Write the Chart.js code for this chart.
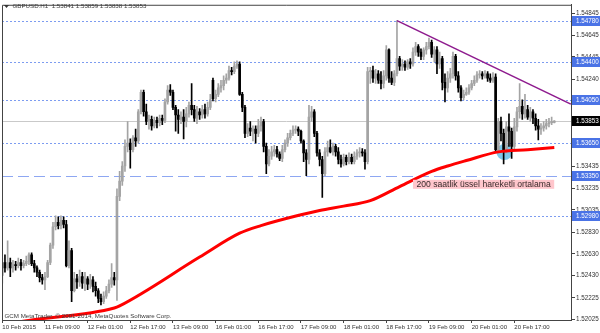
<!DOCTYPE html>
<html><head><meta charset="utf-8">
<script src="https://cdn.jsdelivr.net/npm/chart.js@4.4.1/dist/chart.umd.min.js"></script>
<style>html,body{margin:0;padding:0;background:#fff;}canvas{display:block;}</style>
</head><body>
<canvas id="c" width="600" height="333" style="width:600px;height:333px"></canvas>
<script>
// ---- data (GBPUSD H1, one entry per hourly bar) ----
const open = [1.5243,1.5255,1.5250,1.5255,1.5250,1.5253,1.5252,1.5255,1.5252,1.5254,
1.5256,1.5262,1.5254,1.5250,1.5246,1.5241,1.5239,1.5242,1.5255,1.5271,
1.5288,1.5292,1.5289,1.5294,1.5290,1.5252,1.5266,1.5229,1.5240,1.5237,
1.5242,1.5236,1.5240,1.5235,1.5239,1.5233,1.5229,1.5222,1.5219,1.5224,
1.5229,1.5235,1.5241,1.5239,1.5316,1.5330,1.5344,1.5362,1.5365,1.5359,
1.5370,1.5367,1.5394,1.5412,1.5394,1.5385,1.5387,1.5381,1.5386,1.5384,
1.5388,1.5386,1.5403,1.5414,1.5412,1.5398,1.5391,1.5387,1.5389,1.5385,
1.5392,1.5400,1.5396,1.5388,1.5394,1.5391,1.5396,1.5392,1.5398,1.5423,
1.5406,1.5410,1.5416,1.5418,1.5423,1.5425,1.5432,1.5431,1.5436,1.5438,
1.5410,1.5398,1.5374,1.5379,1.5376,1.5378,1.5374,1.5381,1.5385,1.5362,
1.5346,1.5353,1.5357,1.5359,1.5355,1.5351,1.5359,1.5365,1.5370,1.5374,
1.5377,1.5378,1.5376,1.5367,1.5356,1.5350,1.5389,1.5394,1.5374,1.5356,
1.5350,1.5337,1.5357,1.5361,1.5357,1.5362,1.5357,1.5350,1.5346,1.5352,
1.5348,1.5352,1.5348,1.5353,1.5356,1.5357,1.5356,1.5348,1.5431,1.5432,
1.5425,1.5429,1.5423,1.5420,1.5427,1.5451,1.5425,1.5421,1.5429,1.5443,
1.5436,1.5438,1.5435,1.5440,1.5438,1.5449,1.5454,1.5449,1.5445,1.5451,
1.5454,1.5458,1.5447,1.5451,1.5438,1.5443,1.5421,1.5416,1.5425,1.5429,
1.5445,1.5427,1.5416,1.5407,1.5410,1.5412,1.5416,1.5420,1.5423,1.5428,
1.5429,1.5427,1.5429,1.5425,1.5423,1.5426,1.5359,1.5385,1.5374,1.5359,
1.5380,1.5376,1.5362,1.5380,1.5394,1.5399,1.5392,1.5396,1.5389,1.5394,
1.5388,1.5381,1.5378,1.5379,1.5381,1.5383,1.5384,1.53841];
const high = [1.5259,1.5262,1.5275,1.5259,1.5257,1.5256,1.5259,1.5258,1.5257,1.5261,
1.5264,1.5264,1.5257,1.5252,1.5248,1.5244,1.5246,1.5257,1.5273,1.5292,
1.5298,1.5297,1.5298,1.5297,1.5294,1.5275,1.5268,1.5246,1.5244,1.5248,
1.5246,1.5246,1.5242,1.5244,1.5242,1.5237,1.5231,1.5226,1.5228,1.5233,
1.5239,1.5254,1.5246,1.5323,1.5339,1.5348,1.5368,1.5385,1.5369,1.5372,
1.5378,1.5396,1.5414,1.5414,1.5401,1.5391,1.5390,1.5389,1.5389,1.5391,
1.5391,1.5406,1.5418,1.5419,1.5414,1.5400,1.5396,1.5394,1.5396,1.5398,
1.5403,1.5420,1.5400,1.5399,1.5397,1.5400,1.5401,1.5403,1.5410,1.5425,
1.5414,1.5420,1.5423,1.5427,1.5429,1.5436,1.5435,1.5440,1.5441,1.5440,
1.5412,1.5400,1.5383,1.5385,1.5381,1.5381,1.5387,1.5389,1.5387,1.5365,
1.5359,1.5362,1.5363,1.5362,1.5357,1.5363,1.5368,1.5374,1.5377,1.5381,
1.5381,1.5380,1.5377,1.5368,1.5359,1.5400,1.5399,1.5396,1.5376,1.5359,
1.5353,1.5361,1.5367,1.5368,1.5365,1.5364,1.5361,1.5354,1.5355,1.5354,
1.5356,1.5355,1.5357,1.5359,1.5361,1.5360,1.5359,1.5435,1.5435,1.5436,
1.5433,1.5432,1.5431,1.5432,1.5455,1.5452,1.5431,1.5432,1.5478,1.5445,
1.5442,1.5441,1.5442,1.5443,1.5453,1.5458,1.5456,1.5452,1.5453,1.5458,
1.5462,1.5460,1.5454,1.5454,1.5449,1.5445,1.5429,1.5431,1.5434,1.5449,
1.5447,1.5431,1.5418,1.5414,1.5416,1.5419,1.5423,1.5427,1.5431,1.5432,
1.5431,1.5432,1.5431,1.5429,1.5430,1.5429,1.5388,1.5389,1.5378,1.5385,
1.5392,1.5379,1.5388,1.5398,1.5420,1.5405,1.5410,1.5400,1.5398,1.5396,
1.5392,1.5387,1.5383,1.5385,1.5387,1.5388,1.5389,1.53859];
const low = [1.5236,1.5246,1.5248,1.5242,1.5246,1.5248,1.5250,1.5248,1.5250,1.5252,
1.5253,1.5252,1.5246,1.5242,1.5237,1.5235,1.5230,1.5241,1.5253,1.5268,
1.5285,1.5286,1.5286,1.5287,1.5251,1.5250,1.5219,1.5228,1.5231,1.5233,
1.5231,1.5229,1.5230,1.5231,1.5228,1.5224,1.5218,1.5216,1.5217,1.5222,
1.5227,1.5232,1.5234,1.5220,1.5312,1.5326,1.5339,1.5357,1.5342,1.5357,
1.5362,1.5365,1.5392,1.5390,1.5382,1.5378,1.5377,1.5379,1.5379,1.5381,
1.5382,1.5384,1.5401,1.5409,1.5396,1.5376,1.5374,1.5383,1.5369,1.5380,
1.5389,1.5391,1.5385,1.5383,1.5387,1.5388,1.5388,1.5390,1.5396,1.5404,
1.5403,1.5408,1.5412,1.5414,1.5420,1.5423,1.5428,1.5429,1.5434,1.5409,
1.5394,1.5370,1.5371,1.5372,1.5367,1.5365,1.5371,1.5376,1.5357,1.5337,
1.5344,1.5350,1.5353,1.5352,1.5349,1.5348,1.5357,1.5362,1.5368,1.5372,
1.5374,1.5372,1.5365,1.5348,1.5335,1.5346,1.5385,1.5371,1.5353,1.5344,
1.5315,1.5335,1.5353,1.5356,1.5354,1.5353,1.5346,1.5343,1.5344,1.5345,
1.5346,1.5346,1.5346,1.5350,1.5352,1.5353,1.5341,1.5346,1.5420,1.5421,
1.5420,1.5420,1.5415,1.5416,1.5423,1.5421,1.5419,1.5418,1.5427,1.5432,
1.5432,1.5432,1.5433,1.5434,1.5436,1.5446,1.5445,1.5442,1.5442,1.5447,
1.5452,1.5444,1.5440,1.5429,1.5434,1.5414,1.5403,1.5412,1.5421,1.5425,
1.5423,1.5412,1.5404,1.5405,1.5409,1.5410,1.5414,1.5418,1.5421,1.5425,
1.5424,1.5425,1.5422,1.5421,1.5421,1.5357,1.5356,1.5367,1.5346,1.5356,
1.5362,1.5351,1.5359,1.5376,1.5388,1.5387,1.5388,1.5387,1.5385,1.5383,
1.5377,1.5368,1.5373,1.5376,1.5378,1.5380,1.5382,1.53838];
const close = [1.5255,1.5250,1.5255,1.5250,1.5253,1.5252,1.5255,1.5252,1.5254,1.5256,
1.5262,1.5254,1.5250,1.5246,1.5241,1.5239,1.5242,1.5255,1.5271,1.5288,
1.5292,1.5289,1.5294,1.5290,1.5252,1.5266,1.5229,1.5240,1.5237,1.5242,
1.5236,1.5240,1.5235,1.5239,1.5233,1.5229,1.5222,1.5219,1.5224,1.5229,
1.5235,1.5241,1.5239,1.5316,1.5330,1.5344,1.5362,1.5365,1.5359,1.5370,
1.5367,1.5394,1.5412,1.5394,1.5385,1.5387,1.5381,1.5386,1.5384,1.5388,
1.5386,1.5403,1.5414,1.5412,1.5398,1.5391,1.5387,1.5389,1.5385,1.5392,
1.5400,1.5396,1.5388,1.5394,1.5391,1.5396,1.5392,1.5398,1.5405,1.5406,
1.5410,1.5416,1.5418,1.5423,1.5425,1.5432,1.5431,1.5436,1.5438,1.5410,
1.5398,1.5374,1.5379,1.5376,1.5378,1.5374,1.5381,1.5385,1.5362,1.5346,
1.5353,1.5357,1.5359,1.5355,1.5351,1.5359,1.5365,1.5370,1.5374,1.5377,
1.5378,1.5376,1.5367,1.5356,1.5350,1.5389,1.5394,1.5374,1.5356,1.5350,
1.5337,1.5357,1.5361,1.5357,1.5362,1.5357,1.5350,1.5346,1.5352,1.5348,
1.5352,1.5348,1.5353,1.5356,1.5357,1.5356,1.5348,1.5431,1.5432,1.5425,
1.5429,1.5423,1.5420,1.5427,1.5451,1.5425,1.5421,1.5429,1.5443,1.5436,
1.5438,1.5435,1.5440,1.5438,1.5449,1.5454,1.5449,1.5445,1.5451,1.5454,
1.5458,1.5447,1.5451,1.5438,1.5443,1.5421,1.5416,1.5425,1.5429,1.5445,
1.5427,1.5416,1.5407,1.5410,1.5412,1.5416,1.5420,1.5423,1.5428,1.5429,
1.5427,1.5429,1.5425,1.5423,1.5426,1.5359,1.5385,1.5374,1.5359,1.5380,
1.5376,1.5362,1.5380,1.5394,1.5399,1.5392,1.5396,1.5389,1.5394,1.5388,
1.5381,1.5378,1.5379,1.5381,1.5383,1.5384,1.5384,1.53853];

// 200-hour EMA, read at a few bars
const maBars   = [0, 11, 42, 44, 74, 89, 97, 112, 119, 128, 138, 149, 161, 167, 174, 186, 197, 207];
const maValues = [1.5198,1.5202,1.5213,1.5215,1.5260,1.5282,1.5289,1.5299,1.5303,1.5307,1.5312,1.5325,1.5339,1.5344,1.5349,1.5357,1.5359,1.5361];

const xTickBars   = [0,16,32,48,64,80,96,112,128,144,160,176,192];
const xTickLabels = ["10 Feb 2015","11 Feb 09:00","12 Feb 01:00","12 Feb 17:00","13 Feb 09:00","16 Feb 01:00","16 Feb 17:00","17 Feb 09:00","18 Feb 01:00","18 Feb 17:00","19 Feb 09:00","20 Feb 01:00","20 Feb 17:00"];
const yTickValues = [1.54845,1.54645,1.54445,1.54240,1.53435,1.53235,1.53035,1.52830,1.52630,1.52430,1.52225,1.52025];

const dottedLevels = [1.54780, 1.54400, 1.54050, 1.53650, 1.52980];
const dashedLevels = [1.53350];
const bidPrice = 1.53853;
const trendBars = [148, 213.2];
const trendPrices = [1.54780, 1.54010];
const circleBar = 188.3, circlePrice = 1.53568;
const maLabelText = "200 saatlik üssel hareketli ortalama";
const maLabelBar = 154, maLabelPrice = 1.53271;
const symbolTitle = "GBPUSD.H1";
const copyrightText = "GCM MetaTrader, © 2001-2014, MetaQuotes Software Corp.";

// ---- drawing ----
const FONT = '"Liberation Sans", Arial, sans-serif';
Chart.defaults.font.family = FONT;
const bars = close.map((_, i) => i);
const last = close.length - 1;
const colors = bars.map(i => close[i] >= open[i] ? '#a4a4a4' : '#000000');

const overlay = {
  id: 'overlay',
  beforeDatasetsDraw(chart) {
    const {ctx, chartArea: a, scales: {x, y}} = chart;
    ctx.save();
    ctx.lineWidth = 1;
    const hline = (p, col, dash) => {
      const py = Math.round(y.getPixelForValue(p)) + 0.5;
      ctx.strokeStyle = col; ctx.setLineDash(dash);
      ctx.beginPath(); ctx.moveTo(a.left, py); ctx.lineTo(a.right, py); ctx.stroke();
    };
    dottedLevels.forEach(p => hline(p, '#7d9cf0', [2, 2]));
    dashedLevels.forEach(p => hline(p, '#8ea7f2', [11, 5]));
    hline(bidPrice, '#c9c9c9', []);
    ctx.setLineDash([]);
    ctx.fillStyle = '#7dc8ea';
    ctx.beginPath();
    ctx.arc(x.getPixelForValue(circleBar), y.getPixelForValue(circlePrice), 8, 0, Math.PI * 2);
    ctx.fill();
    ctx.restore();
  },
  afterDatasetsDraw(chart) {
    const {ctx, chartArea: a, scales: {x, y}} = chart;
    ctx.save();
    // trend line
    ctx.strokeStyle = '#8e1b8e'; ctx.lineWidth = 1.6;
    ctx.beginPath();
    ctx.moveTo(x.getPixelForValue(trendBars[0]), y.getPixelForValue(trendPrices[0]));
    ctx.lineTo(x.getPixelForValue(trendBars[1]), y.getPixelForValue(trendPrices[1]));
    ctx.stroke();
    // MA label
    ctx.font = '8.6px ' + FONT;
    const tw = ctx.measureText(maLabelText).width;
    const lx = x.getPixelForValue(maLabelBar), ly = y.getPixelForValue(maLabelPrice);
    ctx.fillStyle = '#ffc6cc';
    ctx.fillRect(lx, ly - 4.5, tw + 7, 9);
    ctx.fillStyle = '#3a2b2b'; ctx.textBaseline = 'middle'; ctx.textAlign = 'left';
    ctx.fillText(maLabelText, lx + 3.5, ly + 0.5);
    ctx.restore();
  },
  afterDraw(chart) {
    const {ctx, chartArea: a, scales: {y}} = chart;
    ctx.save();
    // frame top / left
    ctx.strokeStyle = '#444'; ctx.lineWidth = 1;
    ctx.beginPath();
    ctx.moveTo(a.left + 0.5, a.bottom); ctx.lineTo(a.left + 0.5, a.top + 0.5); ctx.lineTo(a.right, a.top + 0.5);
    ctx.stroke();
    // title
    ctx.fillStyle = '#333';
    ctx.beginPath(); ctx.moveTo(4, 5); ctx.lineTo(9, 5); ctx.lineTo(6.5, 8); ctx.closePath(); ctx.fill();
    ctx.font = '6.2px ' + FONT; ctx.textBaseline = 'middle'; ctx.textAlign = 'left';
    ctx.fillStyle = '#3a3a3a';
    const title = symbolTitle + '  ' + [open[last], high[last], low[last], close[last]].map(v => v.toFixed(5)).join(' ');
    ctx.fillText(title, 12.5, 6.5);
    ctx.fillText(copyrightText, 4.5, 316.5);
    // price boxes
    const box = (p, bg) => {
      const py = Math.round(y.getPixelForValue(p));
      ctx.fillStyle = bg; ctx.fillRect(a.right + 1, py - 5, 28, 10);
      ctx.fillStyle = '#ffffff'; ctx.font = '6.3px ' + FONT;
      ctx.fillText(p.toFixed(5), a.right + 5, py + 0.5);
    };
    dottedLevels.concat(dashedLevels).forEach(p => box(p, '#4a73e6'));
    box(bidPrice, '#000000');
    ctx.restore();
  }
};

new Chart(document.getElementById('c').getContext('2d'), {
  type: 'bar',
  data: {
    datasets: [
      {type: 'line', data: maBars.map((b, k) => ({x: b, y: maValues[k]})), borderColor: '#ff0000', borderWidth: 3,
       pointRadius: 0, cubicInterpolationMode: 'monotone', order: 0},
      {type: 'bar', data: bars.map(i => ({x: i, y: [open[i], close[i]]})), backgroundColor: colors,
       barThickness: 2, grouped: false, minBarLength: 1, order: 1},
      {type: 'bar', data: bars.map(i => ({x: i, y: [low[i], high[i]]})), backgroundColor: colors,
       barThickness: 1, grouped: false, order: 2}
    ]
  },
  options: {
    responsive: false, animation: false, devicePixelRatio: 1, events: [],
    layout: {padding: {left: 2, top: 2, right: 0, bottom: 0}},
    plugins: {legend: {display: false}, tooltip: {enabled: false}},
    scales: {
      x: {type: 'linear', position: 'bottom', min: -0.11, max: 213.26, offset: false,
        afterBuildTicks: s => { s.ticks = xTickBars.map(v => ({value: v})); },
        afterFit: s => { s.height = 13; },
        ticks: {autoSkip: false, maxRotation: 0, minRotation: 0, align: 'start', padding: 1,
          font: {size: 6}, color: '#333', callback: (v, i) => xTickLabels[i]},
        grid: {drawOnChartArea: false, offset: false, tickLength: 3, color: '#444'},
        border: {color: '#444'}
      },
      y: {type: 'linear', position: 'right', min: 1.52020, max: 1.54926, beginAtZero: false,
        afterBuildTicks: s => { s.ticks = yTickValues.map(v => ({value: v})); },
        afterFit: s => { s.width = 29; },
        ticks: {autoSkip: false, padding: 1, font: {size: 6.3}, color: '#333', callback: v => v.toFixed(5)},
        grid: {drawOnChartArea: false, tickLength: 4, color: '#444'},
        border: {color: '#444'}
      }
    }
  },
  plugins: [overlay]
});
</script>
</body></html>
